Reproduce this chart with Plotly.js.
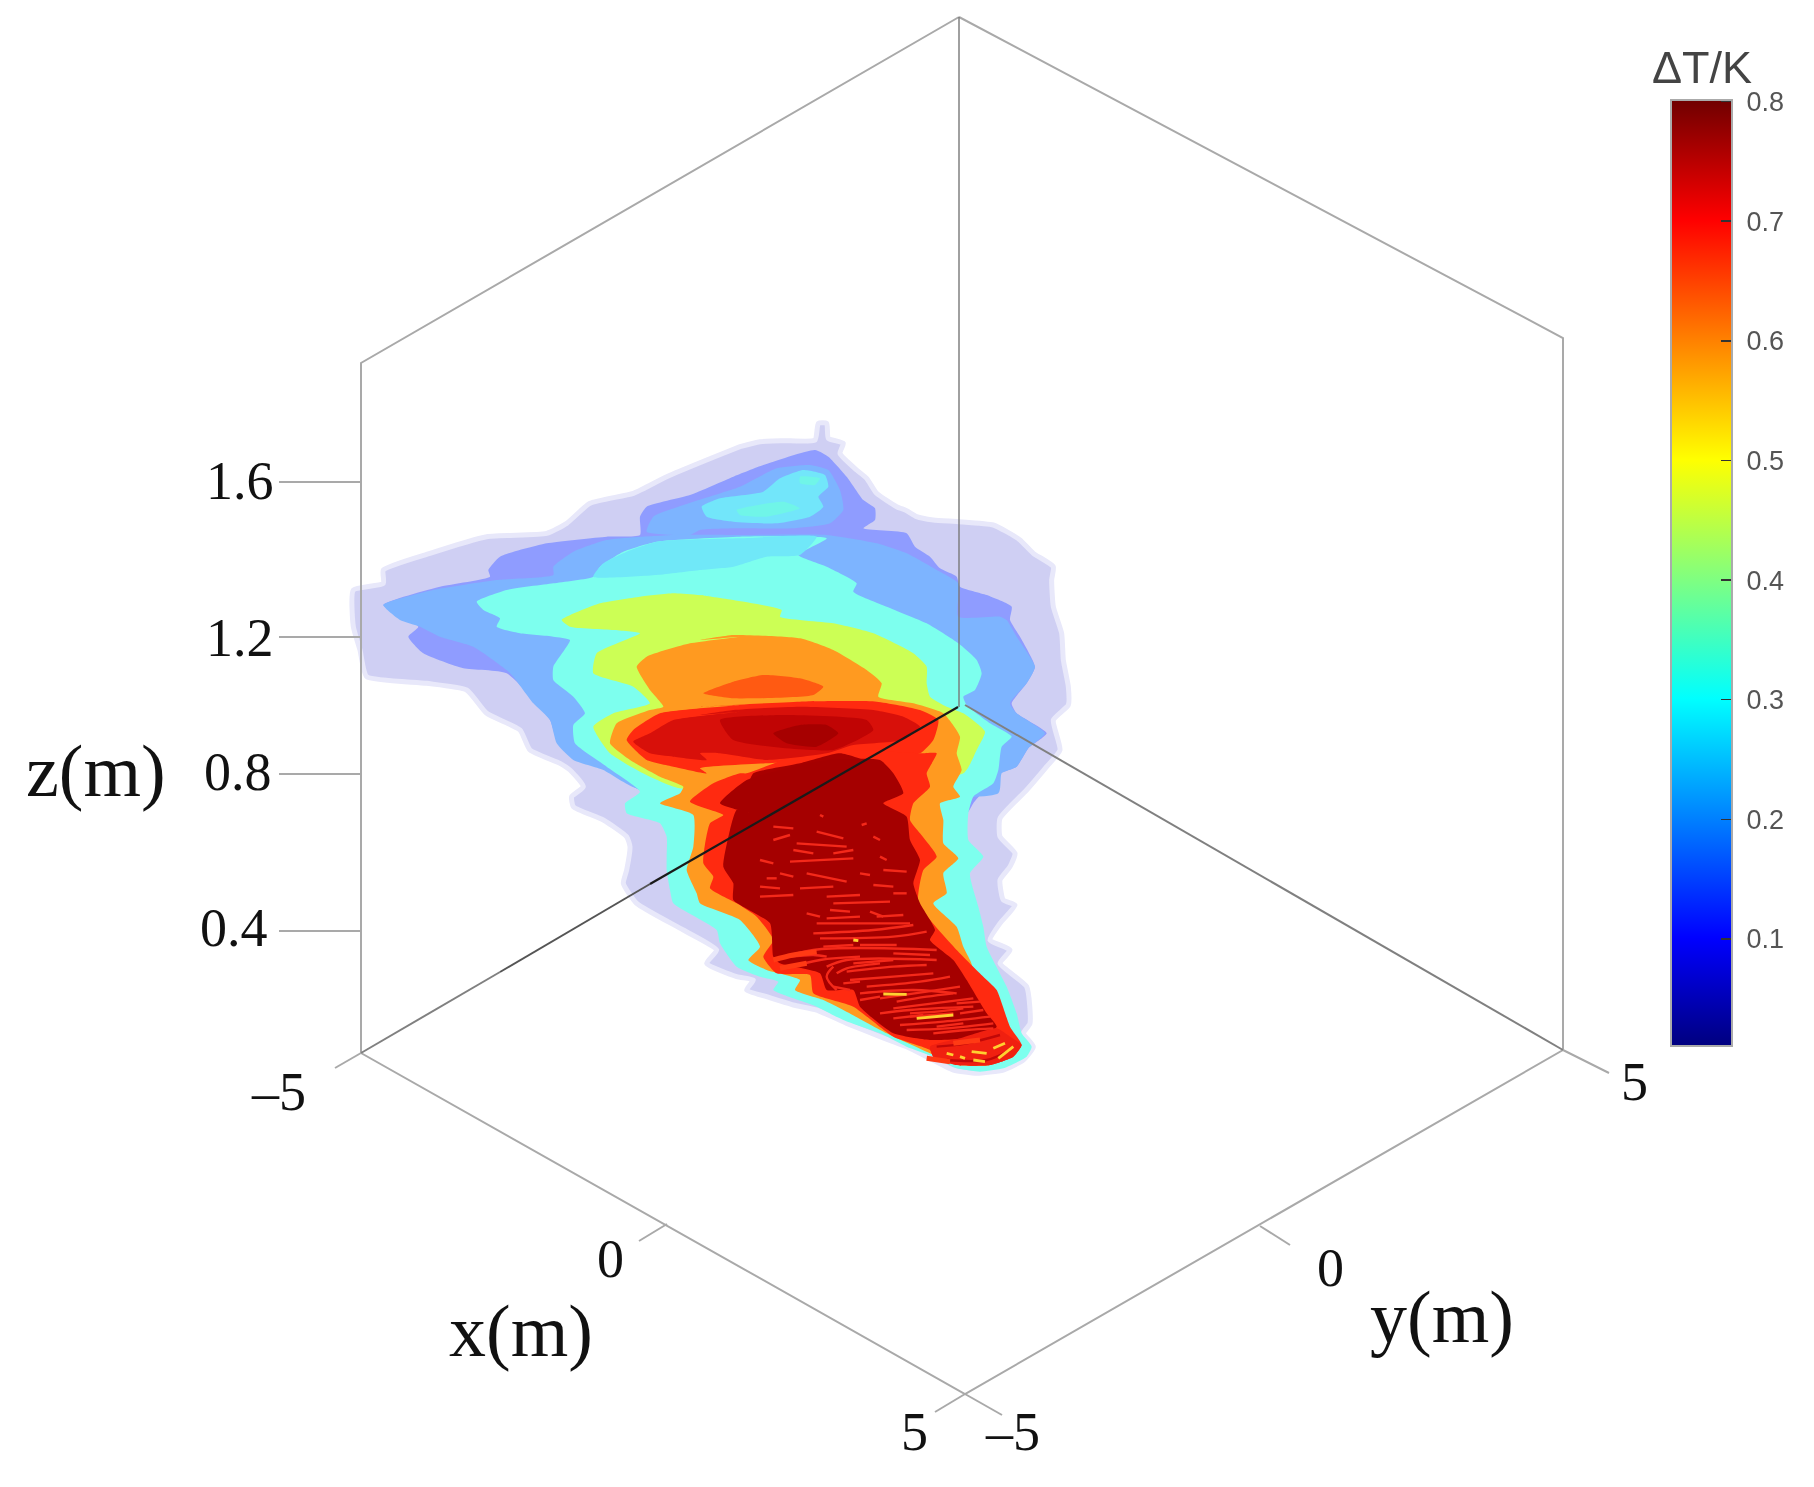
<!DOCTYPE html>
<html><head><meta charset="utf-8">
<script src="https://cdn.plot.ly/plotly-3.0.1.min.js"></script>
<style>html,body{margin:0;padding:0;background:#fff}#c{width:1814px;height:1487px;filter:blur(0.7px)}</style></head>
<body><div id="c"></div>
<script>
// --- plume outlines. L: left part, R: right part, B: lower part
const lavR=[[345,60],[355,10],[380,10],[385,55],[430,70],[420,100],[470,150],[500,175],[530,220],[590,260],[620,272],[650,290],[700,300],[775,305],[880,315],[920,335],[960,360],[1000,400],[1060,440],[1055,480],[1060,560],[1085,640],[1090,720],[1105,800],[1105,855],[1060,900],[1080,990],[1040,1040],[980,1110],[900,1195]];
const lavB=[[1320,230],[1365,280],[1350,320],[1320,360],[1330,420],[1365,435],[1320,490],[1290,540],[1350,570],[1320,610],[1400,680],[1410,790],[1390,820],[1420,860],[1390,900],[1330,930],[1250,940],[1180,930],[1100,890],[1040,860],[960,830],[860,790],[770,750],[700,735],[620,710],[560,690],[580,660],[530,650],[440,610],[470,570],[370,510],[230,430],[190,370],[200,330],[210,260],[200,230],[130,180],[40,140],[35,110],[70,80],[30,30],[0,10]];
const lavL=[[570,990],[540,930],[440,880],[380,810],[260,790],[80,770],[60,690],[40,620],[40,510],[130,490],[130,450],[270,400],[440,350],[620,340],[680,310],[750,250],[880,220],[980,170],[1100,120],[1200,80]];
const lavTop=[[120,80],[180,65],[250,62]];
const periR=[[345,90],[385,110],[440,170],[490,240],[525,265],[525,300],[490,325],[620,340],[645,380],[690,410],[720,445],[770,470],[780,500],[860,525],[935,560],[930,600],[960,650],[1005,740],[980,790],[935,850],[950,880],[1040,940],[985,985],[950,1040],[900,1060],[820,1150],[800,1180]];
const periL=[[900,1110],[800,1045],[700,1000],[650,960],[630,900],[500,760],[370,745],[250,700],[205,650],[235,620],[130,555],[300,500],[450,470],[445,450],[480,410],[620,370],[800,350],[900,345],[900,290],[920,260],[1050,225],[1180,170]];
const periTop=[[190,135]];
const blueBlobR=[[330,135],[385,150],[420,210],[430,270],[390,310],[280,325],[100,325],[0,330]];
const blueBlobL=[[1050,345],[920,335],[940,290],[1060,245],[1200,200]];
const blueBlobTop=[[230,145]];
const skyBlob=[[310,150],[375,165],[385,200],[355,230],[370,260],[330,290],[230,310],[100,305],[20,290],[5,260],[60,235],[190,215],[240,175]];
const aquaBlob1=[[300,170],[360,175],[345,195],[300,190]];
const aquaBlob2=[[110,270],[250,245],[300,265],[200,290],[120,285]];
const blueL=[[130,555],[280,510],[470,480],[640,465],[640,440],[700,395],[800,360],[1000,345],[1200,345]];
const blueR=[[380,345],[530,370],[620,400],[710,450],[775,490],[775,590],[900,590],[920,600],[950,650],[1005,740],[980,790],[930,850],[950,880],[1035,940],[985,985],[950,1040],[905,1060],[895,1120]];
const blueL2=[[890,1105],[790,1050],[700,1020],[650,970],[630,900],[580,850],[520,770],[500,750],[400,680],[300,650],[240,620],[180,600]];
const aquaR=[[380,355],[295,405],[380,440],[470,490],[460,515],[560,560],[680,610],[775,670],[830,720],[845,760],[825,810],[790,830],[800,855],[870,910],[935,950],[905,980],[895,1050],[880,1090],[820,1130],[805,1180]];
const aquaB=[[1225,240],[1270,290],[1230,340],[1255,440],[1270,500],[1280,560],[1340,680],[1370,760],[1385,820],[1415,860],[1400,890],[1330,925],[1260,935],[1190,925],[1120,890],[1040,860],[960,820],[850,780],[770,740],[700,715],[640,690],[655,665],[600,650],[530,620],[480,550],[470,510],[340,430],[330,390],[320,330],[320,290],[320,230],[300,190],[200,160],[195,130],[240,95]];
const aquaL=[[800,1040],[705,970],[700,915],[735,880],[700,830],[640,780],[640,740],[690,660],[640,650],[540,640],[470,620],[480,595],[430,570],[410,545],[500,510],[640,490],[760,470],[780,440],[850,395],[950,365],[1200,350]];
const skyL=[[950,465],[760,470],[790,430],[860,395],[950,365],[1200,355]];
const skyR=[[350,350],[300,405],[200,410],[100,440],[0,450]];
const limeL=[[665,600],[780,550],[900,530],[1000,520],[1130,530]];
const limeR=[[0,525],[100,540],[245,570],[240,590],[400,610],[520,640],[640,700],[680,740],[680,790],[690,830],[740,860],[790,880],[855,935],[830,990],[790,1060]];
const limeL2=[[1020,1105],[900,1055],[810,1000],[760,920],[820,880],[930,850],[880,800],[760,760],[770,700],[900,640],[820,630],[690,620]];
const orangeL=[[890,740],[920,710],[1050,670],[1200,650]];
const orangeR=[[0,660],[100,645],[300,655],[400,690],[500,750],[545,790],[535,830],[640,850],[730,880],[780,950],[770,1000],[785,1050],[760,1100],[780,1130],[720,1150],[730,1200]];
const orangeB=[[1150,250],[1195,295],[1150,340],[1160,400],[1120,430],[1190,500],[1210,560],[1230,600],[1250,650],[1310,720],[1340,790],[1380,860],[1290,915],[1190,915],[1110,880],[980,820],[850,750],[790,720],[705,690],[720,660],[620,630],[565,600],[600,560],[540,480],[420,430],[410,400],[380,330],[400,260],[400,165],[300,130],[360,100],[370,80],[300,50],[210,0]];
const orangeL2=[[810,970],[830,910],[930,870],[970,860],[930,810]];
const hot=[[10,820],[100,785],[190,765],[300,775],[370,800],[340,825],[100,835]];
const redLobeL=[[860,960],[880,930],[960,880],[1200,855]];
const redLobeR=[[0,860],[300,845],[530,845],[660,870],[715,900],[700,960],[660,1000],[400,1020],[200,1030],[0,1045]];
const redLobeL2=[[1100,1060],[1000,1040],[920,1020]];
const redColR=[[140,1060],[250,1020],[400,990],[660,1000],[710,1000],[680,1060],[690,1100],[640,1150],[630,1200]];
const redColB=[[1080,220],[1130,290],[1090,330],[1075,430],[1190,570],[1270,650],[1310,690],[1350,800],[1385,855],[1360,890],[1290,915],[1190,915],[1120,890],[1110,870],[1000,830],[880,740],[760,700],[750,645],[650,640],[610,590],[640,540],[590,470],[530,430],[450,385],[460,350],[430,310],[450,190],[490,165],[390,125],[460,70],[540,40]];
const crimL=[[880,965],[930,940],[1000,900],[1200,875]];
const crimR=[[0,885],[100,870],[300,860],[520,870],[610,890],[660,920],[610,960],[460,975],[380,1000],[200,1020],[60,1000],[0,1000]];
const crimL2=[[1100,1020],[1000,1010],[930,1000]];
const deepLobe=[[60,900],[250,885],[500,900],[520,930],[400,990],[100,960]];
const darkLobe=[[220,940],[300,915],[380,915],[415,940],[350,980],[260,970]];
const darkUp=[[150,1085],[160,1060],[300,1030],[420,1000],[520,1030],[540,1040],[300,1100]];
const darkB=[[800,0],[960,0],[1000,40],[1030,100],[970,130],[1040,170],[1050,240],[1080,300],[1060,370],[1080,430],[1125,510],[1110,540],[1180,600],[1220,660],[1280,760],[1310,800],[1260,830],[1110,840],[1000,820],[900,740],[880,690],[800,690],[780,640],[660,610],[640,590],[630,490],[520,420],[520,370],[490,320],[510,210],[530,150],[570,160],[480,130],[560,60],[700,20]];
const tip=[[1110,860],[1200,835],[1310,805],[1350,830],[1385,855],[1360,890],[1290,915],[1190,915],[1120,890]];
// --- contour ripples in the hot core
const rippleRed=[[[640,240],[690,225]],[[710,250],[860,260]],[[770,215],[850,235]],[[660,340],[700,350]],[[600,380],[660,385]],[[740,340],[860,365]],[[720,385],[820,380]],[[690,305],[880,295]],[[940,375],[1000,380]],[[600,410],[700,405]],[[800,410],[900,405]],[[820,430],[990,425]],[[740,460],[780,470]],[[810,450],[870,455]],[[930,455],[970,470]],[[770,490],[1050,490]],[[760,520],[940,510],[1060,495]],[[780,535],[1000,530],[1100,515]],[[650,600],[760,570],[1130,570]],[[680,625],[780,600],[900,590]],[[800,620],[860,600],[1130,600]],[[860,635],[1000,620],[1100,615]],[[870,660],[1000,650],[1120,640]],[[920,680],[1080,665],[1170,650]],[[960,715],[1100,695],[1200,680]],[[1000,745],[1120,730],[1240,715]],[[1020,795],[1150,785],[1290,770]],[[1040,810],[1160,805],[1300,790]],[[820,680],[870,690]],[[820,620],[800,650],[830,690]],[[900,700],[1060,690],[1190,700]],[[960,760],[1050,750],[1240,740]],[[1000,775],[1090,765]],[[1200,760],[1270,750]],[[1120,820],[1220,810],[1300,805]],[[640,200],[700,205]],[[600,300],[640,310]],[[900,340],[930,345]],[[960,290],[980,300]],[[920,190],[905,195]],[[780,165],[790,170]],
 [[690,590],[760,585],[800,590]],[[830,640],[860,625],[960,610]],[[850,670],[900,665]],[[880,610],[1000,600]],[[1000,580],[1110,585]],[[900,555],[1010,555]],[[790,560],[880,555]],[[800,475],[900,470]],[[950,470],[1030,465]],[[620,355],[650,355]],[[700,270],[760,280]],[[820,280],[880,270]],[[940,230],[960,240]],[[970,330],[1040,335]],[[1000,400],[1040,400]],[[900,720],[960,710]],[[1010,725],[1100,710],[1180,700]],[[1050,760],[1130,755],[1210,745]],[[1050,770],[1180,760]],[[1130,800],[1210,790]],[[1190,730],[1260,725]]];
const rippleBand=[[[640,600],[700,585],[770,575]],[[660,625],[740,610]],[[1100,895],[1170,905]],[[1180,850],[1260,840]]];
const rippleDark=[[[1130,860],[1220,850],[1320,825]],[[1160,900],[1280,900],[1350,870]]];
const rippleYellow=[[[1070,775],[1180,765]],[[1235,875],[1280,880]],[[1300,865],[1335,850]],[[1315,895],[1360,860]],[[970,702],[1040,703]],[[1160,880],[1180,885]],[[1200,890],[1215,895]],[[1240,900],[1275,905]],[[880,540],[895,542]]];
// --- box edges and ticks
const boxX=[959,361,361,965,1563,1563,959],boxY=[17,363,1053,1394,1050,338,17];
const zTickX=[361,279],zTickY=[482,637,774,931],zLabelX=[240,240,238,234],zLabelY=[481,638,772,928],zTickText=['1.6','1.2','0.8','0.4'];
const xTickText=['–5','0','5'],yTickText=['–5','0','5'];
const cbTicks=[0.1,0.2,0.3,0.4,0.5,0.6,0.7,0.8];
const jet=[[0,'#00007f'],[0.114,'#0000ff'],[0.24,'#0080ff'],[0.367,'#00ffff'],[0.494,'#80ff80'],[0.62,'#ffff00'],[0.747,'#ff8000'],[0.873,'#ff0000'],[1,'#700000']];

const L=p=>p.map(([x,y])=>[340+x/3,420+y/3]);
const R=p=>p.map(([x,y])=>[700+x/3,420+y/3]);
const B=p=>p.map(([x,y])=>[560+x/3,760+y/3]);
const layers=[
 ['#cfcff3',[...R(lavR),...B(lavB),...L(lavL),...R(lavTop)],'#e8e8fa',5],
 ['#8f9cff',[...R(periR),...L(periL),...R(periTop)]],
 ['#7db4ff',[...R(blueBlobR),...L(blueBlobL),...R(blueBlobTop)]],
 ['#72e6fa',R(skyBlob)],
 ['#70f5e8',R(aquaBlob1)],
 ['#70f5e8',R(aquaBlob2)],
 ['#7db4ff',[...L(blueL),...R(blueR),...L(blueL2)]],
 ['#7dffee',[...R(aquaR),...B(aquaB),...L(aquaL)]],
 ['#70e8f8',[...L(skyL),...R(skyR)]],
 ['#ccff55',[...L(limeL),...R(limeR),...L(limeL2)]],
 ['#ff9a20',[...L(orangeL),...R(orangeR),...B(orangeB),...L(orangeL2)]],
 ['#ff5a12',R(hot)],
 ['#ff2a10',[...L(redLobeL),...R(redLobeR),...L(redLobeL2)]],
 ['#ff2a10',[...R(redColR),...B(redColB)]],
 ['#d8100a',[...L(crimL),...R(crimR),...L(crimL2)]],
 ['#c00404',R(deepLobe)],
 ['#a60000',R(darkLobe)],
 ['#a80000',R(darkUp)],
 ['#a50000',B(darkB)],
 ['#f02010',B(tip)]
];
const traces=[];
layers.forEach(([c,p,lc,lw])=>traces.push({type:'scatter',mode:'lines',x:[...p.map(q=>q[0]),p[0][0]],y:[...p.map(q=>q[1]),p[0][1]],fill:'toself',fillcolor:c,line:{width:lw||0,color:lc||c,shape:'spline',smoothing:0.5},hoverinfo:'skip',showlegend:false}));
const addLines=(list,color,w)=>list.forEach(l=>{const p=B(l);traces.push({type:'scatter',mode:'lines',x:p.map(q=>q[0]),y:p.map(q=>q[1]),line:{color,width:w,shape:'spline'},hoverinfo:'skip',showlegend:false});});
addLines(rippleDark,'#c00808',2.4);
addLines(rippleRed,'#f4291a',2.4);
addLines(rippleBand,'#ff3a14',5);
addLines(rippleYellow,'#ffd030',2.8);
const seg=(x,y,color,w)=>traces.push({type:'scatter',mode:'lines',x,y,line:{color,width:w},hoverinfo:'skip',showlegend:false});
seg(boxX,boxY,'#a9a9a9',2);
seg([959,959],[17,707],'rgba(120,120,120,0.7)',2);
seg([361,500],[1053,972],'#808080',2);
seg([500,650],[972,884],'#555555',2);
seg([650,958],[884,707],'#1a1a1a',2.2);
seg([965,1563],[705,1050],'#808080',2);
zTickY.forEach(y=>seg(zTickX,[y,y],'#a9a9a9',2));
seg([361,335],[1053,1068],'#a9a9a9',2);
seg([667,639],[1224,1241],'#a9a9a9',2);
seg([965,935],[1394,1412],'#a9a9a9',2);
seg([965,1002],[1394,1415],'#a9a9a9',2);
seg([1260,1290],[1226,1245],'#a9a9a9',2);
seg([1563,1609],[1050,1073],'#a9a9a9',2);
// colour bar
traces.push({type:'scatter',mode:'markers',x:[-100,-100],y:[-100,-100],marker:{size:1,color:[0.0106,0.8012],cmin:0.0106,cmax:0.8012,colorscale:jet,showscale:true,
 colorbar:{x:1671/1814,xanchor:'left',xpad:0,y:1-100/1487,yanchor:'top',ypad:0,lenmode:'pixels',len:946,thicknessmode:'pixels',thickness:61,
  outlinecolor:'#aaaaaa',outlinewidth:2,ticks:'inside',ticklen:12,tickcolor:'#333333',tickwidth:1.5,tickvals:cbTicks,ticktext:cbTicks.map(v=>'\u00a0'+v.toFixed(1)),
  tickfont:{family:'Liberation Sans',size:27,color:'#555555'}}},hoverinfo:'skip',showlegend:false});
const serif='Liberation Serif';
const note=(x,y,text,size)=>({x,y,text,xref:'x',yref:'y',showarrow:false,xanchor:'center',yanchor:'middle',font:{family:serif,size,color:'#111111'}});
const annotations=[
 ...zTickText.map((t,i)=>note(zLabelX[i],zLabelY[i],t,54)),
 note(96,771,'z(m)',74),note(521,1331,'x(m)',74),note(1442,1317,'y(m)',74),
 note(278,1092,xTickText[0],54),note(610,1259,xTickText[1],54),note(914,1432,xTickText[2],54),
 note(1012,1432,yTickText[0],54),note(1330,1268,yTickText[1],54),note(1634,1082,yTickText[2],54),
 {x:1702,y:67,text:'ΔT/K',xref:'x',yref:'y',showarrow:false,xanchor:'center',yanchor:'middle',font:{family:'Liberation Sans',size:45,color:'#444444'}}
];
Plotly.newPlot('c',traces,{width:1814,height:1487,margin:{l:0,r:0,t:0,b:0},paper_bgcolor:'#fff',plot_bgcolor:'#fff',showlegend:false,
 xaxis:{range:[0,1814],visible:false,fixedrange:true},yaxis:{range:[1487,0],visible:false,fixedrange:true},annotations},{displayModeBar:false,staticPlot:true});
</script></body></html>
